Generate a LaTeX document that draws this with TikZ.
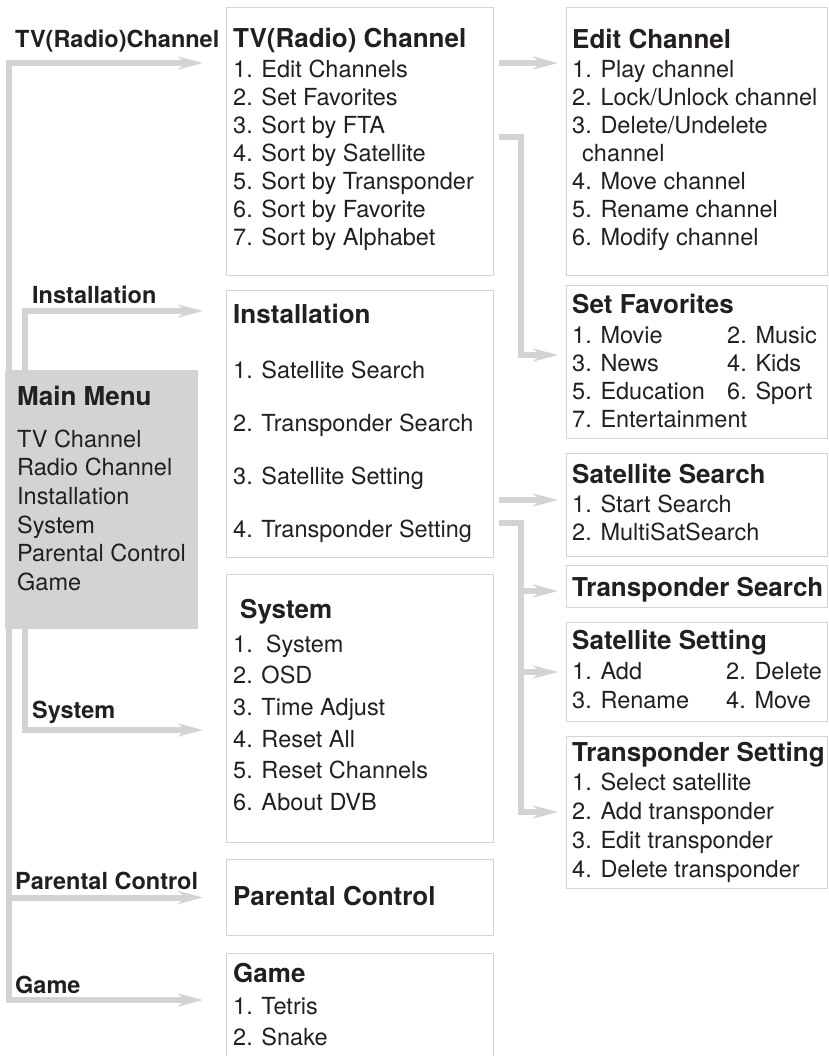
\documentclass[tikz,border=0pt]{standalone}
\usepackage{fontspec}
\setmainfont{TeX Gyre Heros}
\usetikzlibrary{arrows.meta}

\definecolor{inkgray}{HTML}{231F20}
\definecolor{linkgray}{HTML}{D1D3D4}
\definecolor{boxgray}{HTML}{D4D4D4}

\tikzset{
  box/.style={draw=boxgray, line width=1pt, anchor=north west, inner sep=0pt},
  menubox/.style={fill=linkgray, anchor=north west, inner sep=0pt},
  link/.style={draw=linkgray, line width=6pt, -{Stealth[length=25pt,width=13pt,inset=8pt]}},
  txt/.style={anchor=base west, inner sep=0pt, text=inkgray, font=\fontsize{23.5}{28}\selectfont},
  ttl/.style={txt, font=\bfseries\fontsize{26}{30}\selectfont},
  lbl/.style={txt, font=\bfseries\fontsize{23.5}{28}\selectfont}
}

\begin{document}
\begin{tikzpicture}[x=1pt, y=-1pt]
\useasboundingbox (0,0) rectangle (828,1056);

% Boxes of the middle column
\node[box, minimum width=267pt, minimum height=268pt] (tvbox) at (226,7) {};
\node[box, minimum width=267pt, minimum height=267pt] (instbox) at (226,290) {};
\node[box, minimum width=267pt, minimum height=268pt] (sysbox) at (226,574) {};
\node[box, minimum width=267pt, minimum height=76pt] (pcbox) at (226,859) {};
\node[box, minimum width=267pt, minimum height=110pt] (gamebox) at (226,953) {};

% Boxes of the right column
\node[box, minimum width=261pt, minimum height=268pt] (editbox) at (566,7) {};
\node[box, minimum width=261pt, minimum height=153pt] (favbox) at (566,285) {};
\node[box, minimum width=261pt, minimum height=103pt] (satsbox) at (566,453) {};
\node[box, minimum width=261pt, minimum height=42pt] (tpsbox) at (566,565) {};
\node[box, minimum width=261pt, minimum height=99pt] (satsetbox) at (566,622) {};
\node[box, minimum width=261pt, minimum height=152pt] (tpsetbox) at (566,736) {};

% Connectors from the main menu
\coordinate (outtop) at (9,63);
\coordinate (outbot) at (9,1000);
\coordinate (intop) at (25,311);
\coordinate (inbot) at (25,730);
\draw[link, shorten >=23pt] (outbot) -- (outtop) -- (tvbox.west |- outtop);
\draw[link, shorten >=23pt] (outtop) -- (outbot) -- (gamebox.west |- outbot);
\draw[link, shorten >=23pt] (outbot |- pcbox.west) -- (pcbox.west);
\draw[link, shorten >=23pt] (inbot) -- (intop) -- (instbox.west |- intop);
\draw[link, shorten >=23pt] (intop) -- (inbot) -- (sysbox.west |- inbot);

% Connectors to the right column
\coordinate (favtop) at (521,137);
\coordinate (favbot) at (521,355);
\coordinate (tptop) at (521,523);
\coordinate (tpbot) at (521,812);
\draw[link, shorten <=5pt, shorten >=8pt] (tvbox.east |- 0,63) -- (editbox.west |- 0,63);
\draw[link, shorten <=5pt, shorten >=8pt] (tvbox.east |- favtop) -- (favtop) -- (favbot) -- (favbox.west |- favbot);
\draw[link, shorten <=5pt, shorten >=8pt] (instbox.east |- 0,500) -- (satsbox.west |- 0,500);
\draw[link, shorten <=5pt, shorten >=8pt] (instbox.east |- tptop) -- (tptop) -- (tpbot) -- (tpsetbox.west |- tpbot);
\draw[link, shorten >=8pt] (tptop |- 0,591) -- (tpsbox.west |- 0,591);
\draw[link, shorten >=8pt] (tptop |- 0,672) -- (satsetbox.west |- 0,672);

% Main menu
\node[menubox, minimum width=193pt, minimum height=259pt] (mainbox) at (5,370) {};
\node[ttl] (maint) at (17,405) {Main Menu};
\node[txt] (main1) at (17,447) {TV Channel};
\node[txt] (main2) at (17,475.7) {Radio Channel};
\node[txt] (main3) at (17,504.4) {Installation};
\node[txt] (main4) at (17,533) {System};
\node[txt] (main5) at (17,561.8) {Parental Control};
\node[txt] (main6) at (17,590.5) {Game};

% Labels on the connectors
\node[lbl] (lbltv) at (15,48) {TV(Radio)Channel};
\node[lbl] (lblinst) at (32,303) {Installation};
\node[lbl] (lblsys) at (32,718) {System};
\node[lbl] (lblpc) at (15,889) {Parental Control};
\node[lbl] (lblgame) at (15,993) {Game};

% TV(Radio) Channel
\node[ttl] (tvt) at (233,48) {TV(Radio) Channel};
\node[txt] (tv1) at (233,78) {1. Edit Channels};
\node[txt] (tv2) at (233,106) {2. Set Favorites};
\node[txt] (tv3) at (233,134) {3. Sort by FTA};
\node[txt] (tv4) at (233,162) {4. Sort by Satellite};
\node[txt] (tv5) at (233,190) {5. Sort by Transponder};
\node[txt] (tv6) at (233,218) {6. Sort by Favorite};
\node[txt] (tv7) at (233,246) {7. Sort by Alphabet};

% Installation
\node[ttl] (instt) at (233,323) {Installation};
\node[txt] (inst1) at (233,378) {1. Satellite Search};
\node[txt] (inst2) at (233,431) {2. Transponder Search};
\node[txt] (inst3) at (233,484) {3. Satellite Setting};
\node[txt] (inst4) at (233,537) {4. Transponder Setting};

% System
\node[ttl] (syst) at (240,618) {System};
\node[txt] (sys1) at (233,652) {1.\ \ System};
\node[txt] (sys2) at (233,683.7) {2. OSD};
\node[txt] (sys3) at (233,715.4) {3. Time Adjust};
\node[txt] (sys4) at (233,747) {4. Reset All};
\node[txt] (sys5) at (233,778.8) {5. Reset Channels};
\node[txt] (sys6) at (233,810.5) {6. About DVB};

% Parental Control and Game
\node[ttl] (pct) at (233,905) {Parental Control};
\node[ttl] (gamet) at (233,982) {Game};
\node[txt] (game1) at (233,1014) {1. Tetris};
\node[txt] (game2) at (233,1045) {2. Snake};

% Edit Channel
\node[ttl] (editt) at (572,49) {Edit Channel};
\node[txt] (edit1) at (572,78) {1. Play channel};
\node[txt] (edit2) at (572,106) {2. Lock/Unlock channel};
\node[txt] (edit3) at (572,134) {3. Delete/Undelete};
\node[txt] (edit3b) at (582,162) {channel};
\node[txt] (edit4) at (572,190) {4. Move channel};
\node[txt] (edit5) at (572,218) {5. Rename channel};
\node[txt] (edit6) at (572,246) {6. Modify channel};

% Set Favorites
\node[ttl] (favt) at (572,313) {Set Favorites};
\node[txt] (fav1) at (572,343) {1. Movie};
\node[txt] (fav2) at (727,343) {2. Music};
\node[txt] (fav3) at (572,371) {3. News};
\node[txt] (fav4) at (727,371) {4. Kids};
\node[txt] (fav5) at (572,399) {5. Education};
\node[txt] (fav6) at (727,399) {6. Sport};
\node[txt] (fav7) at (572,427) {7. Entertainment};

% Satellite Search and Transponder Search
\node[ttl] (satst) at (572,483) {Satellite Search};
\node[txt] (sats1) at (572,512) {1. Start Search};
\node[txt] (sats2) at (572,540) {2. MultiSatSearch};
\node[ttl] (tpst) at (572,596) {Transponder Search};

% Satellite Setting
\node[ttl] (satsett) at (572,649) {Satellite Setting};
\node[txt] (satset1) at (572,679) {1. Add};
\node[txt] (satset2) at (726,679) {2. Delete};
\node[txt] (satset3) at (572,708) {3. Rename};
\node[txt] (satset4) at (726,708) {4. Move};

% Transponder Setting
\node[ttl] (tpsett) at (572,761) {Transponder Setting};
\node[txt] (tpset1) at (572,790) {1. Select satellite};
\node[txt] (tpset2) at (572,819) {2. Add transponder};
\node[txt] (tpset3) at (572,848) {3. Edit transponder};
\node[txt] (tpset4) at (572,877) {4. Delete transponder};
\end{tikzpicture}
\end{document}
